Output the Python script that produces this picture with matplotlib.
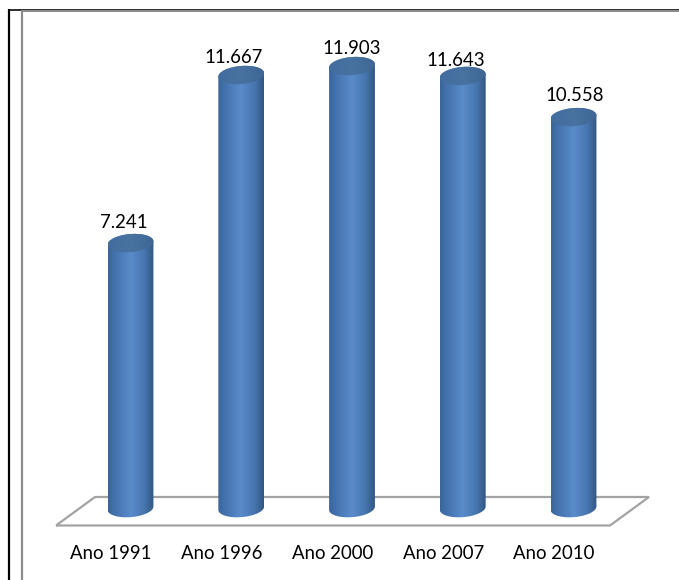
import numpy as np
import matplotlib
matplotlib.use("Agg")
import matplotlib.pyplot as plt
from matplotlib.colors import LinearSegmentedColormap
from matplotlib.lines import Line2D
from matplotlib.patches import PathPatch, Ellipse
from matplotlib.path import Path
from matplotlib.transforms import Affine2D

categories = ["Ano 1991", "Ano 1996", "Ano 2000", "Ano 2007", "Ano 2010"]
values = [7.241, 11.667, 11.903, 11.643, 10.558]
value_labels = ["7.241", "11.667", "11.903", "11.643", "10.558"]

W, H = 679, 580
plt.rcParams["font.family"] = ["Lato", "DejaVu Sans"]
fig = plt.figure(figsize=(W / 100, H / 100), dpi=100, facecolor="white")

# plot area: px rows 12..525
top_px, bot_px = 12, 525
ax = fig.add_axes([0, 1 - bot_px / H, 1, (bot_px - top_px) / H])
ax.patch.set_visible(False)
for s in ax.spines.values():
    s.set_visible(False)

x0_px, x_step = 111.0, 110.75
y0_px, y_step = 518.0, 37.97   # value 0 at depth-plane px row, px per unit
ax.set_xlim(-x0_px / x_step, (W - x0_px) / x_step)
ax.set_ylim((y0_px - bot_px) / y_step, (y0_px - top_px) / y_step)
ax.set_xticks(range(len(categories)), categories, fontsize=13.4, color="#000000")
ax.set_yticks([])
ax.tick_params(axis="x", length=0, pad=14.7)

# pixel coordinates with origin at top-left
px = Affine2D().scale(1, -1).translate(0, H)
fig.canvas.draw()

# frames
for xs, ys, c, w_px, z in [
    ((9, 9), (580, 9), "#000000", 2.2, 1), ((8, 679), (9.7, 9.7), "#000000", 1.6, 1),
    ((22, 22), (580, 10.2), "#8c8c8c", 2.2, 2), ((22, 679), (11.2, 11.2), "#8c8c8c", 2.0, 2),
]:
    fig.add_artist(Line2D(xs, ys, transform=px, color=c, lw=w_px * 0.72, zorder=z,
                          solid_capstyle="butt"))

# floor
floor = [(56, 525.5), (95, 497), (649, 497), (610, 525.5), (56, 525.5)]
ax.add_patch(PathPatch(Path(floor), transform=px, fill=False, ec="#a3a3a3", lw=1.6,
                       zorder=1, clip_on=False, joinstyle="miter"))

cmap = LinearSegmentedColormap.from_list(
    "cyl", [(0, "#3a6599"), (0.15, "#4472ae"), (0.5, "#5a8ccb"),
            (0.8, "#4675ae"), (1, "#325682")])
grad = np.linspace(0, 1, 128)[None, :]
cap_cmap = LinearSegmentedColormap.from_list("cap", ["#426d9f", "#48729f", "#3e6795"])

depth_dx = 19.5   # bars sit behind the tick plane
half_w = 23.0
rx, ry = 23.0, 9.0
tilt = -5.0
base_value = 0.26
label_dx = [-7, -8, 0, -7, 1]
label_dy = [21, 18, 18, 15, 22]


def arc(cx, cy, a0, a1, n=40):
    t = np.radians(np.linspace(a0, a1, n))
    c, s = np.cos(np.radians(tilt)), np.sin(np.radians(tilt))
    ex, ey = rx * np.cos(t), ry * np.sin(t)
    return np.column_stack([cx + ex * c - ey * s, cy + ex * s + ey * c])


for i, v in enumerate(values):
    cx = x0_px + x_step * i + depth_dx
    cy_top = y0_px - v * y_step
    cy_bot = y0_px - base_value * y_step
    bottom = arc(cx, cy_bot, 0, 180)          # front of the base (y down)
    upper = arc(cx, cy_top, 180, 360)
    verts = np.vstack([upper, bottom, upper[:1]])
    clip = PathPatch(Path(verts), transform=px, fc="none", ec="none")
    ax.add_patch(clip)
    im = ax.imshow(grad, cmap=cmap, aspect="auto", interpolation="bilinear",
                   extent=(cx - half_w, cx + half_w, cy_bot + ry + 4, cy_top - ry - 4),
                   transform=px, zorder=3, clip_on=True)
    im.set_clip_path(clip)
    cap = Ellipse((cx, cy_top), 2 * rx, 2 * ry, angle=tilt, transform=px,
                  fc="none", ec="none")
    ax.add_patch(cap)
    ci = ax.imshow(np.linspace(0, 1, 32)[None, :], cmap=cap_cmap, aspect="auto",
                   interpolation="bilinear",
                   extent=(cx - rx, cx + rx, cy_top + ry + 3, cy_top - ry - 3),
                   transform=px, zorder=4)
    ci.set_clip_path(cap)
    ax.annotate(value_labels[i], xy=(i, v), xycoords="data",
                xytext=(depth_dx + label_dx[i], label_dy[i]),
                textcoords="offset pixels", ha="center", va="center",
                fontsize=13.4, color="#000000", zorder=5, annotation_clip=False)

ax.set_xlim(-x0_px / x_step, (W - x0_px) / x_step)
ax.set_ylim((y0_px - bot_px) / y_step, (y0_px - top_px) / y_step)
ax.set_aspect("auto")
fig.savefig("out.png", dpi=100, facecolor="white")
